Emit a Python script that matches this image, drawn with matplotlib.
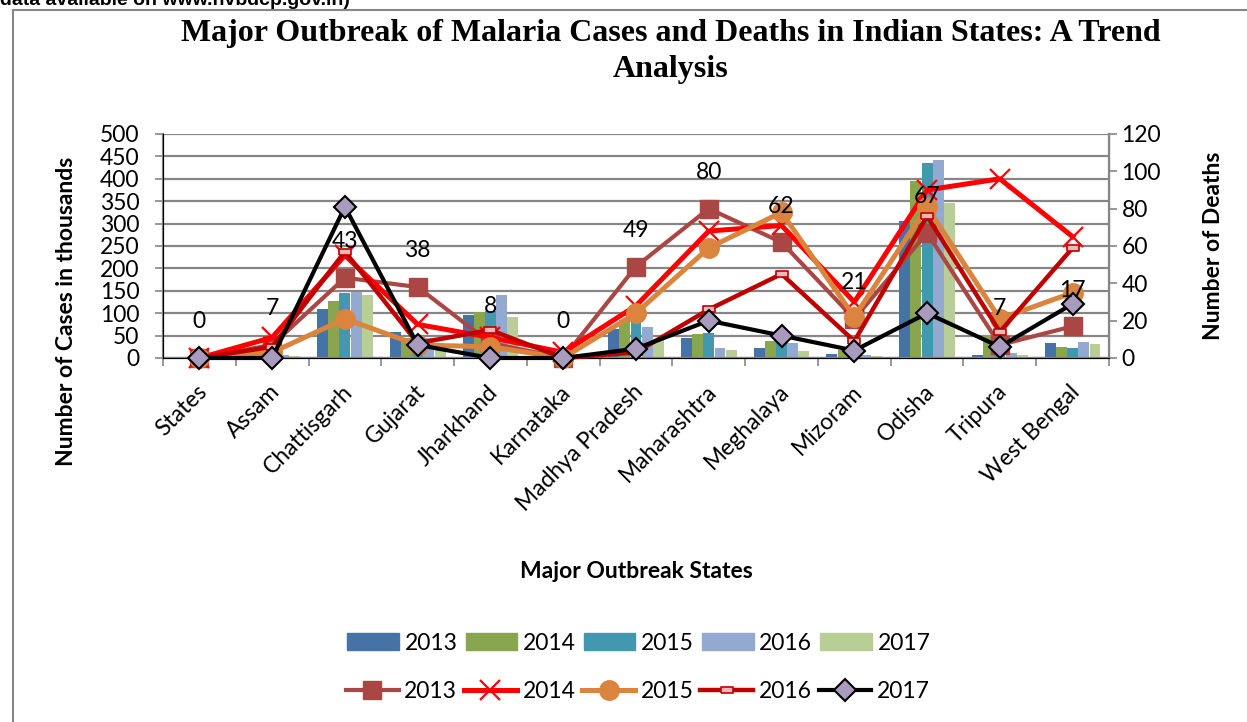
import numpy as np
import matplotlib.pyplot as plt
from matplotlib.lines import Line2D
from matplotlib.patches import Patch

plt.rcParams['font.family'] = ['Lato', 'DejaVu Sans']

# ----------------------------
# Data
# ----------------------------
states = ["States", "Assam", "Chattisgarh", "Gujarat", "Jharkhand", "Karnataka",
          "Madhya Pradesh", "Maharashtra", "Meghalaya", "Mizoram", "Odisha",
          "Tripura", "West Bengal"]
years = ["2013", "2014", "2015", "2016", "2017"]

# malaria cases (thousands)
cases_2013 = [0, 19, 110, 57, 96, 13, 64, 44, 23, 10, 306, 7, 34]
cases_2014 = [0, 15, 128, 45, 103, 15, 85, 53, 39, 18, 394, 51, 25]
cases_2015 = [0, 15, 144, 40, 105, 6, 92, 56, 40, 12, 435, 15, 23]
cases_2016 = [0, 7, 147, 44, 141, 3, 69, 23, 34, 7, 443, 11, 35]
cases_2017 = [0, 5, 140, 30, 92, 2, 41, 18, 16, 4, 346, 7, 31]

# malaria deaths
deaths_2013 = [0, 7, 43, 38, 8, 0, 49, 80, 62, 21, 67, 7, 17]
deaths_2014 = [0, 11, 55, 18, 11, 3, 28, 68, 71, 30, 90, 96, 65]
deaths_2015 = [0, 3, 21, 7, 6, 0, 24, 59, 78, 22, 81, 21, 35]
deaths_2016 = [0, 6, 57, 8, 15, 0, 3, 26, 45, 9, 76, 14, 59]
deaths_2017 = [0, 0, 81, 7, 0, 0, 5, 20, 12, 4, 24, 6, 29]

cases = [cases_2013, cases_2014, cases_2015, cases_2016, cases_2017]
deaths = [deaths_2013, deaths_2014, deaths_2015, deaths_2016, deaths_2017]

bar_colors = ['#4572A7', '#89A54E', '#4198AF', '#93A9CF', '#B9CD96']

# rectangular "dash" marker used for the 2016 deaths line
dash = [(-1, -0.45), (1, -0.45), (1, 0.45), (-1, 0.45), (-1, -0.45)]
line_styles = [
    dict(color='#AA4643', lw=3.0, marker='s', ms=13, mfc='#AA4643', mec='#AA4643'),
    dict(color='#FF0000', lw=3.6, marker='x', ms=14, mew=1.6, mec='#FF0000'),
    dict(color='#DB843D', lw=3.6, marker='o', ms=14, mfc='#DB843D', mec='#DB843D'),
    dict(color='#C00000', lw=3.2, marker=dash, ms=9, mfc='#F2B8B8', mec='#C00000', mew=1.2),
    dict(color='black', lw=3.0, marker='D', ms=11, mfc='#A99BBD', mec='black', mew=1.5),
]

grey = '#868686'
x = np.arange(len(states))

fig = plt.figure(figsize=(12.47, 7.22), dpi=100)
W, H = 1247, 722
ax = fig.add_axes([163 / W, 1 - 358 / H, (1109 - 163) / W, (358 - 134) / H])
ax2 = ax.twinx()

# ----------------------------
# Bars: cases
width = 0.15
for i, vals in enumerate(cases):
    ax.bar(x + (i - 2) * 0.154, vals, width, color=bar_colors[i], zorder=2)

ax.set_xlim(-0.5, len(states) - 0.5)
ax.set_ylim(0, 500)
ax.set_yticks(range(0, 501, 50))
ax.yaxis.grid(True, color=grey, lw=1.6)
ax.set_axisbelow(True)

ax.set_xticks(x)
ax.set_xticklabels([])
ax.tick_params(axis='x', which='major', length=0)
ax.set_xticks(np.arange(-0.5, len(states), 1), minor=True)
ax.tick_params(axis='x', which='minor', length=6, width=1.2, color=grey, direction='out')
ax.tick_params(axis='y', length=6, width=1.2, color=grey, labelsize=16.5, pad=11)

for s in ['top']:
    ax.spines[s].set_visible(False)
    ax2.spines[s].set_visible(False)
for sp in [ax.spines['left'], ax.spines['bottom'], ax2.spines['right']]:
    sp.set_color(grey)
    sp.set_linewidth(1.6)

# rotated category labels
for xi, name in zip(x, states):
    ax.annotate(name, xy=(xi, 0), xycoords=('data', 'axes fraction'),
                xytext=(3, -22), textcoords='offset points',
                rotation=45, rotation_mode='anchor', ha='right', va='center',
                fontsize=16.5)

# ----------------------------
# Lines: deaths
for i, vals in enumerate(deaths):
    ax2.plot(x, vals, zorder=3, clip_on=False, **line_styles[i])

ax2.set_ylim(0, 120)
ax2.set_yticks(range(0, 121, 20))
ax2.tick_params(axis='y', length=6, width=1.2, color=grey, labelsize=16.5, pad=3)

# 2013 death counts labelled above points
for xi, d in zip(x, deaths_2013):
    ax2.annotate(str(d), xy=(xi, d), xytext=(0, 26), textcoords='offset points',
                 ha='center', va='center', fontsize=16.5, zorder=5)

# ----------------------------
# Titles and axis labels
fig.text(671 / W, 1 - 33 / H, "Major Outbreak of Malaria Cases and Deaths in Indian States: A Trend",
         ha='center', va='center', fontsize=23, fontweight='bold', family='Liberation Serif')
fig.text(671 / W, 1 - 69 / H, "Analysis",
         ha='center', va='center', fontsize=23, fontweight='bold', family='Liberation Serif')
fig.text(67 / W, 1 - 311 / H, "Number of Cases in thousands", rotation=90,
         ha='center', va='center', fontsize=16.5, fontweight='bold')
fig.text(1213 / W, 1 - 246 / H, "Number of Deaths", rotation=90,
         ha='center', va='center', fontsize=16.5, fontweight='bold')
fig.text(636 / W, 1 - 572 / H, "Major Outbreak States",
         ha='center', va='center', fontsize=16.5, fontweight='bold')

# caption running in from above
fig.text(0, 1 - 5 / H, "data available on www.nvbdcp.gov.in)", ha='left', va='baseline',
         fontsize=14, fontweight='bold', family='Liberation Sans')

# ----------------------------
# Legends
bar_handles = [Patch(color=c) for c in bar_colors]
fig.legend(bar_handles, years, loc='center', bbox_to_anchor=(639 / W, 1 - 643 / H),
           ncol=5, frameon=False, fontsize=16.5, handlelength=2.25, handleheight=0.8,
           handletextpad=0.25, columnspacing=0.35)

line_handles = [Line2D([], [], **st) for st in line_styles]
fig.legend(line_handles, years, loc='center', bbox_to_anchor=(638 / W, 1 - 692 / H),
           ncol=5, frameon=False, fontsize=16.5, handlelength=2.3,
           handletextpad=0.25, columnspacing=0.3)

# chart border
fig.add_artist(Line2D([13 / W, 13 / W], [0, 1 - 10 / H], color=grey, lw=1.5))
fig.add_artist(Line2D([13 / W, 1], [1 - 10 / H, 1 - 10 / H], color=grey, lw=1.5))

fig.savefig('out.png', dpi=100)
